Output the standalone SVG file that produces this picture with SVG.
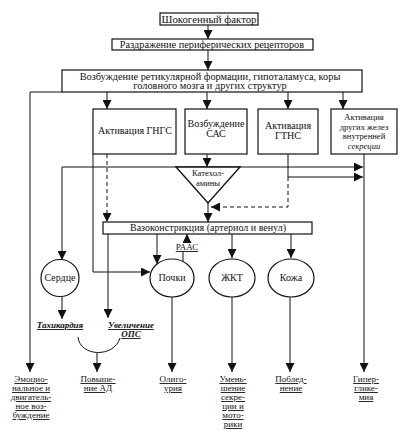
<svg xmlns="http://www.w3.org/2000/svg" width="413" height="432" viewBox="0 0 413 432">
<style>
text{font-family:"Liberation Serif","Times New Roman",serif;fill:#111;text-anchor:middle}
.b{fill:#fff;stroke:#111;stroke-width:1.2}
.t{font-size:10.3px}
.s{font-size:10px}
.k{font-size:8.6px}
.u{font-size:9px;text-decoration:underline}
.c path,.c line{fill:none;stroke:#111;stroke-width:1}
.d{stroke-dasharray:4 3}
</style>
<defs>
<marker id="a" viewBox="0 0 10 10" refX="10" refY="5" markerWidth="9" markerHeight="9" markerUnits="userSpaceOnUse" orient="auto">
<path d="M0,0 L10,5 L0,10 z" fill="#111"/>
</marker>
</defs>
<g class="c">
<path d="M208,25 V39" marker-end="url(#a)"/>
<path d="M208,50 V70" marker-end="url(#a)"/>
<path d="M62,92 H30 V372" marker-end="url(#a)"/>
<path d="M107,92 V109" marker-end="url(#a)"/>
<path d="M207,92 V109" marker-end="url(#a)"/>
<path d="M288,92 V109" marker-end="url(#a)"/>
<path d="M343,92 V109" marker-end="url(#a)"/>
<path d="M207,154 V167" marker-end="url(#a)"/>
<path d="M62,167 H363" marker-end="url(#a)"/>
<path d="M62,167 V260" marker-end="url(#a)"/>
<path d="M288,154 V177 H363" marker-end="url(#a)"/>
<path class="d" d="M288,177 V207 H211" marker-end="url(#a)"/>
<path d="M208,203 V222" marker-end="url(#a)"/>
<path d="M93,154 V272 H150" marker-end="url(#a)"/>
<path class="d" d="M107,154 V222" marker-end="url(#a)"/>
<path d="M108,234 V318" marker-end="url(#a)"/>
<path d="M157,234 V264" marker-end="url(#a)"/>
<path d="M187,242 V234" marker-end="url(#a)"/>
<path d="M183,252 V262"/>
<path d="M232,234 V258" marker-end="url(#a)"/>
<path d="M291,234 V258" marker-end="url(#a)"/>
<path d="M62,297 V319" marker-end="url(#a)"/>
<path d="M172,297 V372" marker-end="url(#a)"/>
<path d="M232,297 V372" marker-end="url(#a)"/>
<path d="M290,297 V372" marker-end="url(#a)"/>
<path d="M364,154 V372" marker-end="url(#a)"/>
<path d="M78,337 C80,357 114,358 120,338"/>
<path d="M97,353 V372" marker-end="url(#a)"/>
</g>
<g id="n1"><rect class="b" x="160" y="13" width="98" height="12"/><text x="209" y="22.5" font-size="10.8px">Шокогенный фактор</text></g>
<g id="n2"><rect class="b" x="112" y="39" width="201" height="11"/><text class="t" x="212" y="47.8">Раздражение периферических рецепторов</text></g>
<g id="n3"><rect class="b" x="62" y="70" width="300" height="22"/><text class="t" x="210" y="79.5">Возбуждение ретикулярной формации, гипоталамуса, коры</text><text class="t" x="210" y="89">головного мозга и других структур</text></g>
<g id="n4"><rect class="b" x="93" y="109" width="83" height="45"/><text class="s" x="135" y="134">Активация ГНГС</text></g>
<g id="n5"><rect class="b" x="185" y="109" width="62" height="45"/><text class="s" x="216" y="127">Возбуждение</text><text class="s" x="216" y="137">САС</text></g>
<g id="n6"><rect class="b" x="258" y="109" width="60" height="45"/><text class="s" x="288" y="129">Активация</text><text class="s" x="288" y="139">ГТНС</text></g>
<g id="n7"><rect class="b" x="331" y="109" width="66" height="45"/><text class="k" x="364" y="120">Активация</text><text class="k" x="364" y="129.7">других желез</text><text class="k" x="364" y="139.4">внутренней</text><text class="k" x="364" y="149.1" font-style="italic">секреции</text></g>
<g id="n8"><polygon points="176,167 240,167 208,203" fill="#fff" stroke="#111" stroke-width="1.4"/><text class="k" x="208" y="176">Катехол-</text><text class="k" x="208" y="186">амины</text></g>
<g id="n9"><rect class="b" x="103" y="222" width="209" height="12"/><text class="s" x="208" y="231.2">Вазоконстрикция (артериол и венул)</text></g>
<g id="n10"><text class="u" x="187" y="250">РААС</text></g>
<g id="n11"><ellipse class="b" cx="60" cy="278" rx="19" ry="18.5"/><text class="s" x="60" y="281">Сердце</text></g>
<g id="n12"><ellipse class="b" cx="172" cy="278" rx="22" ry="19"/><text class="s" x="172" y="281">Почки</text></g>
<g id="n13"><ellipse class="b" cx="232" cy="278" rx="23" ry="19"/><text class="s" x="232" y="281">ЖКТ</text></g>
<g id="n14"><ellipse class="b" cx="291" cy="278" rx="23" ry="19"/><text class="s" x="291" y="281">Кожа</text></g>
<g id="n15"><text class="u" x="60" y="328" font-style="italic" font-weight="bold">Тахикардия</text></g>
<g id="n16"><text class="u" x="131" y="328" font-style="italic" font-weight="bold">Увеличение</text><text class="u" x="131" y="337" font-style="italic" font-weight="bold">ОПС</text></g>
<g id="n17"><text class="u" x="31" y="382">Эмоцио-</text><text class="u" x="31" y="391">нальное и</text><text class="u" x="31" y="400">двигатель-</text><text class="u" x="31" y="409">ное воз-</text><text class="u" x="31" y="418">буждение</text></g>
<g id="n18"><text class="u" x="98" y="382">Повыше-</text><text class="u" x="98" y="391">ние АД</text></g>
<g id="n19"><text class="u" x="173" y="382">Олиго-</text><text class="u" x="173" y="391">урия</text></g>
<g id="n20"><text class="u" x="233" y="382">Умень-</text><text class="u" x="233" y="391">шение</text><text class="u" x="233" y="400">секре-</text><text class="u" x="233" y="409">ции и</text><text class="u" x="233" y="418">мото-</text><text class="u" x="233" y="427">рики</text></g>
<g id="n21"><text class="u" x="291" y="382">Поблед-</text><text class="u" x="291" y="391">нение</text></g>
<g id="n22"><text class="u" x="366" y="382">Гипер-</text><text class="u" x="366" y="391">глике-</text><text class="u" x="366" y="400">мия</text></g>
</svg>
